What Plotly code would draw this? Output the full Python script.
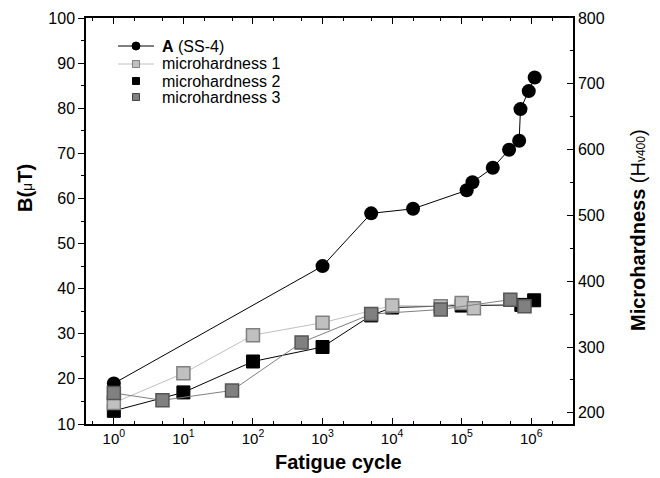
import plotly.graph_objects as go

# Series A (SS-4): fatigue cycle vs B (µT), left axis
a_cycles = [1, 1000, 5000, 20000, 118000, 143000, 280000, 480000, 670000, 700000, 920000, 1120000]
a_b = [19, 45, 56.7, 57.7, 61.8, 63.6, 66.8, 70.8, 72.8, 79.8, 83.8, 86.8]

# Microhardness series (Hv400), right axis
m1_cycles = [1, 10, 100, 1000, 10000, 50000, 100000, 150000]
m1_h = [215, 260, 318, 337, 363, 362, 367, 359]

m2_cycles = [1, 10, 100, 1000, 5000, 10000, 100000, 720000, 1100000]
m2_h = [203, 231, 278, 300, 348, 360, 363, 364, 371]

m3_cycles = [1, 5, 50, 500, 5000, 50000, 500000, 800000]
m3_h = [230, 219, 234, 307, 350, 357, 372, 362]

x_tickvals = [1, 10, 100, 1000, 10000, 100000, 1000000]
x_ticktext = ["10<sup>0</sup>", "10<sup>1</sup>", "10<sup>2</sup>", "10<sup>3</sup>",
              "10<sup>4</sup>", "10<sup>5</sup>", "10<sup>6</sup>"]

legend_labels = ["<b>A</b> (SS-4)", "microhardness 1", "microhardness 2", "microhardness 3"]

FONT = "Liberation Sans, Arial, sans-serif"

# page has an 8px body margin; figure is placed at (8, 8)
OFF = 8
PAGE_W, PAGE_H = 660, 478
W, H = PAGE_W - OFF, PAGE_H - OFF
# plot area in page pixels
L, R, T, B = 86, 573, 18, 424
def px(x):
    return (x - L) / (R - L)
def py(y):
    return (B - y) / (B - T)

fig = go.Figure()

fig.add_trace(go.Scatter(
    x=a_cycles, y=a_b, mode="lines+markers", name="A (SS-4)",
    line=dict(color="black", width=1),
    marker=dict(symbol="circle", size=14, color="black"),
    showlegend=False, yaxis="y"))

fig.add_trace(go.Scatter(
    x=m2_cycles, y=m2_h, mode="lines+markers", name="microhardness 2",
    line=dict(color="black", width=1),
    marker=dict(symbol="square", size=13, color="black", line=dict(color="black", width=1)),
    showlegend=False, yaxis="y2"))

fig.add_trace(go.Scatter(
    x=m1_cycles, y=m1_h, mode="lines+markers", name="microhardness 1",
    line=dict(color="#c0c0c0", width=1),
    marker=dict(symbol="square", size=13, color="#c0c0c0", line=dict(color="#808080", width=1.5)),
    showlegend=False, yaxis="y2"))

fig.add_trace(go.Scatter(
    x=m3_cycles, y=m3_h, mode="lines+markers", name="microhardness 3",
    line=dict(color="#808080", width=1),
    marker=dict(symbol="square", size=13, color="#808080", line=dict(color="#555555", width=1.5)),
    showlegend=False, yaxis="y2"))

# ---- legend (drawn manually for Origin-like tight spacing)
rows = [46, 64, 81, 97]
sym_x = 136
shapes = []
annotations = []
shapes.append(dict(type="line", xref="paper", yref="paper", x0=px(118), x1=px(154),
                   y0=py(rows[0]), y1=py(rows[0]), line=dict(color="black", width=1)))
shapes.append(dict(type="circle", xref="paper", yref="paper", xsizemode="pixel", ysizemode="pixel",
                   xanchor=px(sym_x), yanchor=py(rows[0]), x0=-4, x1=4, y0=-4, y1=4,
                   fillcolor="black", line=dict(color="black", width=1)))
shapes.append(dict(type="line", xref="paper", yref="paper", x0=px(118), x1=px(154),
                   y0=py(rows[1]), y1=py(rows[1]), line=dict(color="#c0c0c0", width=1)))
shapes.append(dict(type="rect", xref="paper", yref="paper", xsizemode="pixel", ysizemode="pixel",
                   xanchor=px(sym_x), yanchor=py(rows[1]), x0=-3.5, x1=3.5, y0=-3.5, y1=3.5,
                   fillcolor="#c0c0c0", line=dict(color="#808080", width=1)))
shapes.append(dict(type="rect", xref="paper", yref="paper", xsizemode="pixel", ysizemode="pixel",
                   xanchor=px(sym_x), yanchor=py(rows[2]), x0=-3.5, x1=3.5, y0=-3.5, y1=3.5,
                   fillcolor="black", line=dict(color="black", width=1)))
shapes.append(dict(type="rect", xref="paper", yref="paper", xsizemode="pixel", ysizemode="pixel",
                   xanchor=px(sym_x), yanchor=py(rows[3]), x0=-3.5, x1=3.5, y0=-3.5, y1=3.5,
                   fillcolor="#808080", line=dict(color="#444444", width=1)))
for lbl, r in zip(legend_labels, rows):
    annotations.append(dict(text=lbl, xref="paper", yref="paper", x=px(160), y=py(r),
                            xanchor="left", yanchor="middle", showarrow=False,
                            font=dict(family=FONT, size=16, color="black")))

# ---- axis titles
annotations += [
    dict(text="<b>Fatigue cycle</b>", xref="paper", yref="paper",
         x=px(338), y=py(462), xanchor="center", yanchor="middle", showarrow=False,
         font=dict(family=FONT, size=20)),
    dict(text="<b>B(</b><span style='font-size:14px'>μ</span><b>T)</b>", xref="paper", yref="paper",
         x=px(25), y=py(188), xanchor="center", yanchor="middle", textangle=-90,
         showarrow=False, font=dict(family=FONT, size=20)),
    dict(text="<b>Microhardness</b> (H<span style='font-size:12px'>v400</span>)",
         xref="paper", yref="paper",
         x=px(638), y=py(230), xanchor="center", yanchor="middle", textangle=-90,
         showarrow=False, font=dict(family=FONT, size=20)),
]

axis_common = dict(showline=True, linecolor="black", linewidth=1.5, showgrid=False,
                   zeroline=False, tickcolor="black")

fig.update_layout(
    width=W, height=H,
    margin=dict(l=L - OFF, r=PAGE_W - R, t=T - OFF, b=PAGE_H - B, autoexpand=False),
    plot_bgcolor="white", paper_bgcolor="white",
    font=dict(family=FONT, color="black"),
    showlegend=False,
    xaxis=dict(type="log", range=[-0.4, 6.6], tickvals=x_tickvals, ticktext=x_ticktext,
               ticks="inside", ticklen=6, mirror="ticks",
               tickfont=dict(family=FONT, size=15, color="black"),
               minor=dict(ticks="inside", ticklen=3, tickcolor="black", showgrid=False),
               **axis_common),
    yaxis=dict(range=[10, 100], dtick=10, ticks="outside", ticklen=6,
               tickfont=dict(family=FONT, size=16, color="black"),
               minor=dict(ticks="outside", ticklen=3, dtick=5, tickcolor="black", showgrid=False),
               **axis_common),
    yaxis2=dict(range=[183, 800], tick0=0, dtick=100, overlaying="y", side="right",
                ticks="inside", ticklen=6,
                tickfont=dict(family=FONT, size=16, color="black"),
                minor=dict(ticks="inside", ticklen=3, dtick=50, tickcolor="black", showgrid=False),
                **axis_common),
    shapes=shapes,
    annotations=annotations,
)

fig.write_html("out.html")
